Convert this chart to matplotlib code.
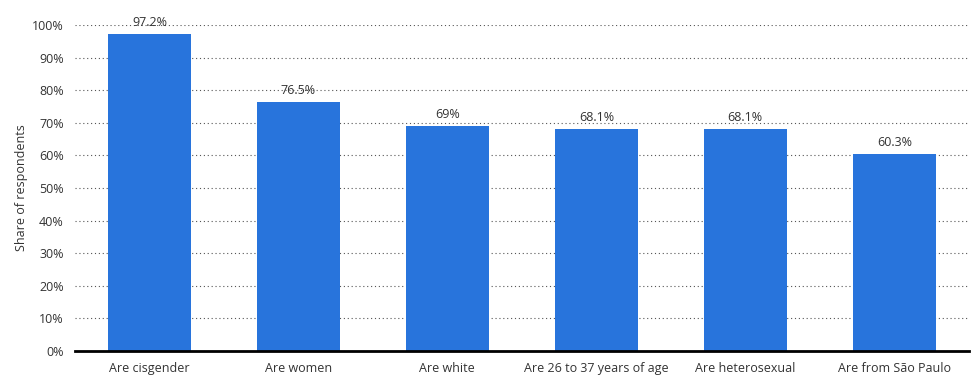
import matplotlib.pyplot as plt

plt.rcParams['font.family'] = ['Open Sans', 'DejaVu Sans']

#chart data
categories = ["Are cisgender", "Are women", "Are white", "Are 26 to 37 years of age",
              "Are heterosexual", "Are from São Paulo"]
shares = [97.2, 76.5, 69, 68.1, 68.1, 60.3]
value_labels = ["97.2%", "76.5%", "69%", "68.1%", "68.1%", "60.3%"]
y_ticks = [0, 10, 20, 30, 40, 50, 60, 70, 80, 90, 100]

fig = plt.figure(figsize=(9.8, 3.84), dpi=100)
ax = fig.add_axes([0.0765, 0.086, 0.912, 0.849])

x = range(len(categories))
ax.bar(x, shares, width=0.56, color="#2874dc", zorder=3)

#labels above bars
for i, v in enumerate(shares):
    ax.text(i, v + 1.5, value_labels[i], ha="center", va="bottom", fontsize=9, color="#333333")

ax.set_xlim(-0.5, len(categories) - 0.5)
ax.set_ylim(0, 100)
ax.set_yticks(y_ticks)
ax.set_yticklabels([f"{t}%" for t in y_ticks], fontsize=9, color="#333333")
ax.set_xticks(list(x))
ax.set_xticklabels(categories, fontsize=9, color="#333333")
ax.set_ylabel("Share of respondents", fontsize=9, color="#333333", labelpad=3)

ax.grid(axis="y", linestyle=(0, (1, 2.5)), color="#555555", linewidth=0.8, zorder=0)
ax.tick_params(axis="both", length=0, pad=8)
for side in ["top", "right", "left"]:
    ax.spines[side].set_visible(False)
ax.spines["bottom"].set_linewidth(2)
ax.spines["bottom"].set_color("black")
ax.spines["bottom"].set_zorder(4)

fig.savefig("out.png", dpi=100)
